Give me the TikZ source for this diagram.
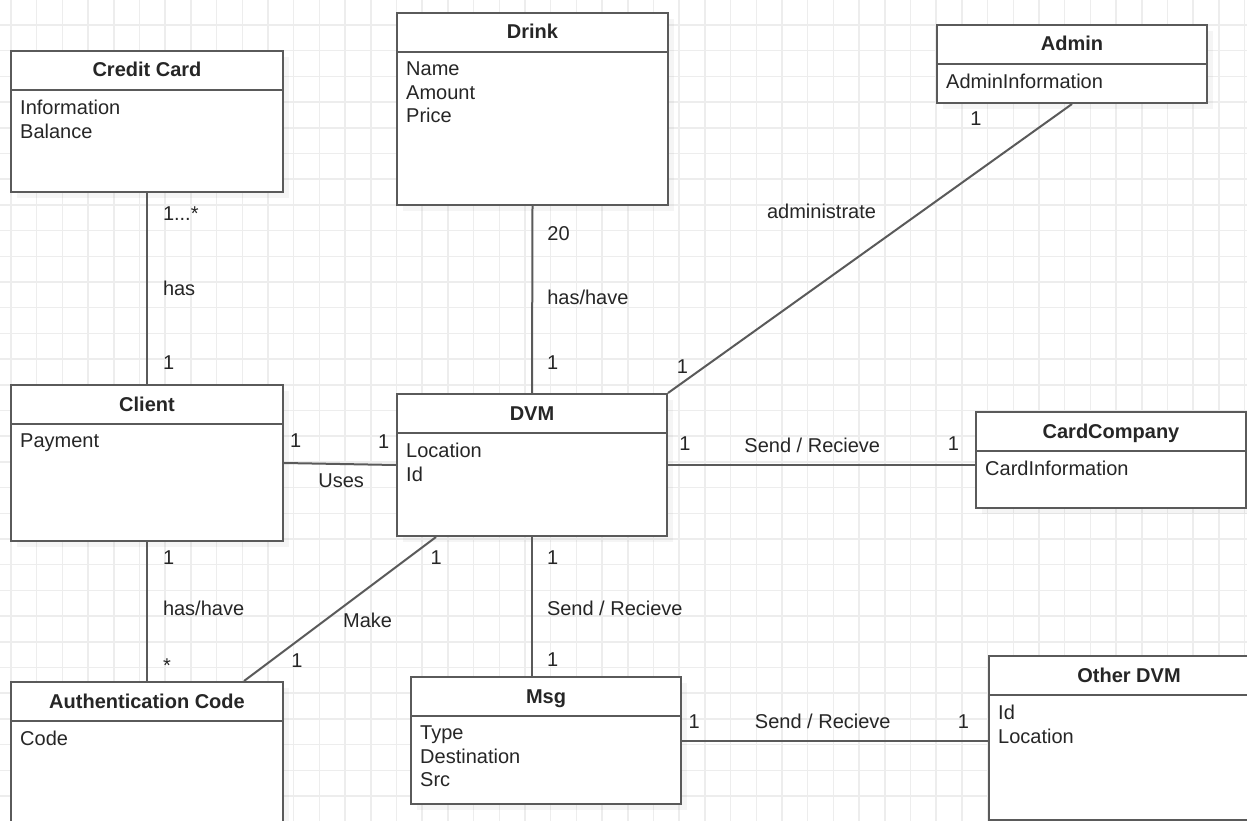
\documentclass[tikz,border=0pt]{standalone}
\usepackage{fontspec}
\setmainfont{Liberation Sans}
\usetikzlibrary{positioning,shadows}

\definecolor{umlline}{HTML}{5A5A5A}
\definecolor{umltext}{HTML}{262626}
\definecolor{gridline}{HTML}{EDEDED}

\tikzset{
  classbox/.style={draw=umlline, line width=2pt, fill=white, anchor=north west, inner sep=0pt,
    drop shadow={shadow xshift=6pt, shadow yshift=-6pt, opacity=.08}},
  classtitle/.style={font=\fontsize{20}{23.5}\selectfont\bfseries, text=umltext, anchor=base, inner sep=0pt},
  classattr/.style={text=umltext, anchor=north west, align=left, inner sep=0pt},
  assoc/.style={draw=umlline, line width=2pt},
  mult/.style={text=umltext, inner sep=0pt},
}

% name, left, top, width, height, title, attributes
\newcommand{\umlclass}[7]{%
  \node[classbox, minimum width=#4pt, minimum height=#5pt] (#1) at (#2,#3) {};
  \draw[assoc] ([yshift=-40pt]#1.north west) -- ([yshift=-40pt]#1.north east);
  \node[classtitle] (#1-title) at ([yshift=-27pt]#1.north) {#6};
  \node[classattr] (#1-attr) at ([xshift=10pt,yshift=-50pt]#1.north west) {#7};
}

\begin{document}
\begin{tikzpicture}[x=1pt, y=-1pt, font=\fontsize{20}{23.5}\selectfont]
        \clip (0,0) rectangle (1247,821);
        \fill[white] (0,0) rectangle (1247,821);
        \foreach \gx in {0,...,48}
            \draw[gridline, line width=1.5pt] ({11+25.7*\gx},0) -- ({11+25.7*\gx},821);
        \foreach \gy in {0,...,31}
            \draw[gridline, line width=1.5pt] (0,{25+25.7*\gy}) -- (1247,{25+25.7*\gy});

        \umlclass{ccard}{10}{50}{272}{141}{Credit Card}{Information\\Balance}
        \umlclass{drink}{396}{12}{271}{192}{Drink}{Name\\Amount\\Price}
        \umlclass{admin}{936}{24}{270}{78}{Admin}{AdminInformation}
        \umlclass{client}{10}{384}{272}{156}{Client}{Payment}
        \umlclass{dvm}{396}{393}{270}{142}{DVM}{Location\\Id}
        \umlclass{cardco}{975}{411}{270}{96}{CardCompany}{CardInformation}
        \umlclass{auth}{10}{681}{272}{150}{Authentication Code}{Code}
        \umlclass{msg}{410}{676}{270}{127}{Msg}{Type\\Destination\\Src}
        \umlclass{other}{988}{655}{280}{164}{Other DVM}{Id\\Location}

        \draw[assoc] (ccard.south) -- (client.north)
            node[mult, pos=.11, right=15pt]{1...*}
            node[mult, pos=.5, right=15pt]{has}
            node[mult, pos=.89, right=15pt]{1};
        \draw[assoc] (drink.south) -- (dvm.north)
            node[mult, pos=.15, right=14pt]{20}
            node[mult, pos=.49, right=14pt]{has/have}
            node[mult, pos=.84, right=14pt]{1};
        \draw[assoc] (admin.south) -- (dvm.north east)
            node[mult, pos=.05, xshift=-76pt]{1}
            node[mult, pos=.37, xshift=-101pt]{administrate}
            node[mult, pos=.91, xshift=-22pt]{1};
        \draw[assoc] (client.east) -- (dvm.west)
            node[mult, pos=.105, yshift=23pt]{1}
            node[mult, pos=.89, yshift=23pt]{1}
            node[mult, pos=.51, yshift=-17pt]{Uses};
        \draw[assoc] (dvm.east) -- (dvm.east -| cardco.west)
            node[mult, pos=.055, yshift=21pt]{1}
            node[mult, pos=.47, yshift=20pt]{Send / Recieve}
            node[mult, pos=.93, yshift=21pt]{1};
        \draw[assoc] (client.south) -- (auth.north)
            node[mult, pos=.11, right=15pt]{1}
            node[mult, pos=.48, right=15pt]{has/have}
            node[mult, pos=.89, right=15pt]{*};
        \draw[assoc] ([xshift=40pt]dvm.south west) -- ([xshift=-40pt]auth.north east)
            node[mult, pos=.14, xshift=27pt]{1}
            node[mult, pos=.58, xshift=43pt]{Make}
            node[mult, pos=.86, xshift=26pt]{1};
        \draw[assoc] (dvm.south) -- (dvm.south |- msg.north)
            node[mult, pos=.15, right=14pt]{1}
            node[mult, pos=.51, right=14pt]{Send / Recieve}
            node[mult, pos=.88, right=14pt]{1};
        \draw[assoc] (msg.east) -- (msg.east -| other.west)
            node[mult, pos=.04, yshift=19pt]{1}
            node[mult, pos=.46, yshift=19pt]{Send / Recieve}
            node[mult, pos=.92, yshift=19pt]{1};
    \end{tikzpicture}
\end{document}
